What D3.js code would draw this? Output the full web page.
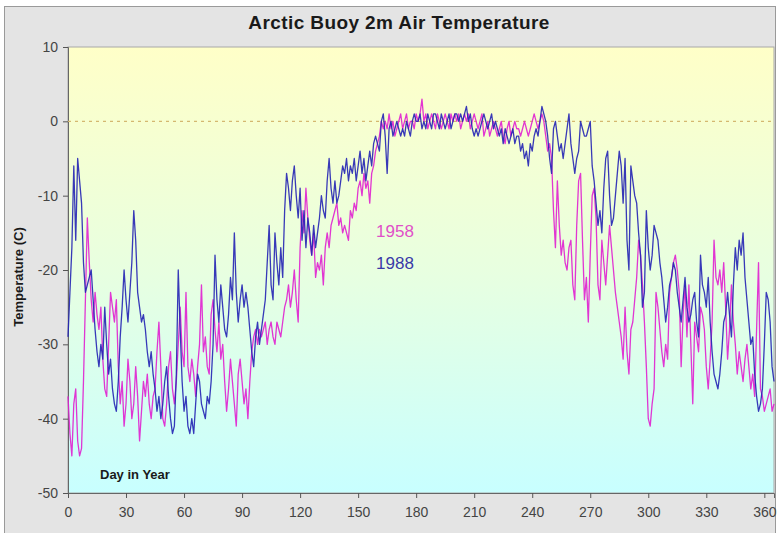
<!DOCTYPE html>
<html>
<head>
<meta charset="utf-8">
<script src="https://cdn.jsdelivr.net/npm/d3@7/dist/d3.min.js"></script>
<style>
  body { margin: 0; background: #ffffff; }
  svg { display: block; font-family: "Liberation Sans", Arial, sans-serif; }
</style>
</head>
<body>
<svg></svg>
<script>
// daily 2m air temperature (C), day 0 .. 365
let temps1958 = [
  -37, -42, -45, -38, -36, -43, -45, -44, -35, -24,
  -13, -19, -24, -27, -23, -26, -28, -25, -32, -36,
  -37, -30, -23, -25, -27, -24, -33, -38, -35, -41,
  -38, -32, -35, -40, -38, -33, -37, -43, -39, -35,
  -37, -34, -38, -40, -37, -36, -31, -27, -33, -40,
  -41, -38, -33, -31, -36, -38, -35, -30, -25, -31,
  -33, -23, -33, -35, -32, -34, -37, -33, -30, -22,
  -31, -29, -33, -34, -26, -24, -28, -31, -27, -32,
  -30, -35, -39, -36, -32, -35, -38, -41, -34, -32,
  -35, -38, -36, -40, -35, -31, -29, -28, -30, -28,
  -29, -28, -27, -30, -28, -27, -29, -30, -27, -28, -29,
  -27, -25, -24, -22, -25, -23, -20, -24, -27, -17,
  -12, -15, -9, -13, -16, -18, -15, -21, -19, -20,
  -18, -22, -17, -15, -17, -14, -13, -12, -11, -14,
  -13, -15, -14, -15, -16, -12, -13, -11, -12, -9,
  -8, -10, -7, -9, -8, -11, -7, -6, -4, -3,
  -2, 0, -1, 0, -1, 1, -1, 0, -2, -1,
  0, 1, -1, 0, 1, -1, 0, 0, -1, 1,
  0, 1, 3, 0, 1, -1, 0, 1, 0, -1,
  1, 0, -1, 0, 1, 0, -1, 1, 0, 1,
  0, 1, -1, 0, 1, 0, 1, -1, 0, 1,
  0, -1, 0, 1, -2, -1, 0, -2, -1, 0,
  -1, -2, -1, 0, -2, -3, -1, 0, -2, -1,
  0, -1, -1, -2, -1, 0, -1, -2, -1, 0, 1,
  0, -1, 0, 1, 0, -2, -4, -3, -5, -12,
  -17, -8, -14, -18, -16, -19, -20, -17, -16, -22,
  -24, -14, -8, -7, -16, -24, -21, -27, -18, -10,
  -9, -13, -22, -24, -16, -19, -22, -18, -14, -17,
  -20, -23, -25, -27, -29, -32, -25, -31, -34, -28,
  -27, -24, -21, -16, -18, -22, -27, -33, -40, -41,
  -38, -36, -23, -25, -28, -31, -33, -30, -32, -23,
  -21, -19, -18, -20, -23, -33, -26, -22, -29, -22,
  -30, -38, -27, -29, -31, -25, -26, -28, -33, -36,
  -32, -27, -16, -21, -22, -20, -23, -19, -25, -32,
  -28, -22, -27, -30, -34, -31, -33, -35, -32, -30,
  -33, -36, -34, -37, -28, -19, -36, -37, -39, -38,
  -37, -36, -39, -38
];

let temps1988 = [
  -29, -23, -17, -6, -16, -5, -8, -11, -19, -23,
  -22, -21, -20, -24, -28, -31, -33, -30, -32, -25,
  -30, -34, -32, -36, -38, -39, -35, -29, -25, -20,
  -24, -27, -23, -19, -12, -16, -23, -25, -27, -26,
  -28, -31, -33, -31, -34, -36, -39, -37, -40, -38,
  -35, -33, -37, -40, -42, -41, -34, -20, -28, -35,
  -39, -37, -41, -42, -40, -42, -38, -34, -35, -38,
  -39, -40, -37, -38, -35, -30, -18, -24, -27, -22,
  -25, -28, -29, -26, -21, -24, -15, -23, -27, -24,
  -22, -25, -23, -25, -28, -31, -33, -29, -27, -30,
  -28, -26, -24, -19, -14, -22, -24, -15, -19, -22, -17,
  -21, -12, -7, -9, -12, -8, -6, -10, -13, -9,
  -16, -12, -17, -13, -15, -18, -14, -17, -15, -13,
  -10, -12, -13, -8, -5, -9, -11, -8, -11, -10,
  -8, -6, -7, -5, -8, -6, -7, -5, -8, -6,
  -4, -7, -5, -8, -6, -4, -6, -3, -2, -3,
  -4, 0, 1, -2, -7, -1, 0, -2, -1, 0,
  -1, -2, -1, -2, 0, -1, -2, 0, 1, 0,
  0, 1, -1, 0, -1, 1, 0, -1, 1, 1,
  0, -1, 1, 0, -1, 0, 1, -1, 0, 1,
  1, 0, 1, 0, 1, 2, 0, 1, -1, -2,
  -1, -2, -1, 0, 1, 0, -1, 0, 1, -1,
  0, -1, -2, -1, -3, -1, -2, -3, -2, -1,
  -3, -2, -2, -4, -3, -5, -4, -6, -3, -4, -2,
  -1, -2, 0, 2, 1, 0, -2, -5, -7, -1,
  0, -2, -4, -3, -5, -3, -1, 1, -3, -5,
  -7, -5, -4, 0, -1, -2, -2, -1, 0, -6,
  -8, -11, -14, -12, -15, -9, -5, -4, -10, -14,
  -13, -10, -7, -4, -6, -11, -5, -16, -20, -6,
  -8, -10, -11, -15, -18, -25, -23, -12, -17, -20,
  -18, -14, -15, -16, -19, -21, -24, -27, -25, -22,
  -21, -19, -20, -23, -25, -27, -24, -21, -25, -27,
  -26, -24, -23, -27, -29, -18, -22, -23, -25, -21,
  -27, -31, -34, -35, -36, -34, -31, -27, -26, -23,
  -26, -29, -22, -17, -20, -16, -18, -15, -21, -24,
  -27, -30, -29, -34, -37, -39, -38, -36, -30, -23,
  -24, -27, -33, -35
];

let xTicks = [0, 30, 60, 90, 120, 150, 180, 210, 240, 270, 300, 330, 360];
let yTicks = [-50, -40, -30, -20, -10, 0, 10];

let width = 778;
let height = 533;
let plotLeft = 68;
let plotRight = 774;
let plotTop = 47;
let plotBottom = 493;

let svg = d3.select("svg").attr("width", width).attr("height", height);

let xScale = d3.scaleLinear().domain([0, 365]).range([plotLeft, plotRight]);
let yScale = d3.scaleLinear().domain([-50, 10]).range([plotBottom, plotTop]);

let drawFrame = () => {
  svg.append("rect")
    .attr("x", 4.5).attr("y", 6.5)
    .attr("width", 771).attr("height", 540)
    .attr("fill", "#e4e4e4")
    .attr("stroke", "#9a9a9a");

  let grad = svg.append("defs").append("linearGradient")
    .attr("id", "bg")
    .attr("x1", 0).attr("y1", 0).attr("x2", 0).attr("y2", 1);
  grad.append("stop").attr("offset", "0%").attr("stop-color", "#ffffc8");
  grad.append("stop").attr("offset", "50%").attr("stop-color", "#e8ffe0");
  grad.append("stop").attr("offset", "100%").attr("stop-color", "#c8ffff");

  svg.append("rect")
    .attr("x", plotLeft).attr("y", plotTop)
    .attr("width", plotRight - plotLeft).attr("height", plotBottom - plotTop)
    .attr("fill", "url(#bg)")
    .attr("stroke", "#a8a8a8");

  svg.append("text")
    .attr("x", 399).attr("y", 29)
    .attr("text-anchor", "middle")
    .attr("font-size", 19).attr("font-weight", "bold")
    .attr("letter-spacing", 0.4)
    .attr("fill", "#1a1a1a")
    .text("Arctic Buoy 2m Air Temperature");
};

let drawAxes = () => {
  let xAxis = d3.axisBottom(xScale).tickValues(xTicks).tickSize(5).tickPadding(9)
    .tickFormat((d) => String(d));
  let yAxis = d3.axisLeft(yScale).tickValues(yTicks).tickSize(5).tickPadding(5)
    .tickFormat((d) => String(d));

  let gx = svg.append("g")
    .attr("transform", "translate(0, " + plotBottom + ")")
    .call(xAxis);
  let gy = svg.append("g")
    .attr("transform", "translate(" + plotLeft + ", 0)")
    .call(yAxis);

  [gx, gy].forEach((g) => {
    g.select(".domain").attr("stroke", "#666");
    g.selectAll(".tick line").attr("stroke", "#555");
    g.selectAll(".tick text")
      .attr("font-size", 14)
      .attr("fill", "#444")
      .attr("font-family", "Liberation Sans, Arial, sans-serif");
  });

  svg.append("line")
    .attr("x1", plotLeft).attr("x2", plotRight)
    .attr("y1", yScale(0)).attr("y2", yScale(0))
    .attr("stroke", "#d4b870")
    .attr("stroke-width", 1.2)
    .attr("stroke-dasharray", "3,4");

  svg.append("text")
    .attr("transform", "translate(23, 277) rotate(-90)")
    .attr("text-anchor", "middle")
    .attr("font-size", 13).attr("font-weight", "bold")
    .attr("fill", "#1a1a1a")
    .text("Temperature (C)");

  svg.append("text")
    .attr("x", 100).attr("y", 479)
    .attr("font-size", 13).attr("font-weight", "bold")
    .attr("fill", "#1a1a1a")
    .text("Day in Year");
};

let drawSeries = (values, color) => {
  let line = d3.line()
    .x((d, i) => xScale(i))
    .y((d) => yScale(d));
  svg.append("path")
    .datum(values)
    .attr("d", line)
    .attr("fill", "none")
    .attr("stroke", color)
    .attr("stroke-width", 1.3)
    .attr("stroke-linejoin", "round")
    .attr("opacity", 0.9);
};

let drawLabels = () => {
  svg.append("text")
    .attr("x", 395).attr("y", 237)
    .attr("text-anchor", "middle")
    .attr("font-size", 17)
    .attr("fill", "#e050c8")
    .text("1958");
  svg.append("text")
    .attr("x", 395).attr("y", 269)
    .attr("text-anchor", "middle")
    .attr("font-size", 17)
    .attr("fill", "#3a3aa8")
    .text("1988");
};

drawFrame();
drawAxes();
drawSeries(temps1958, "#e020d0");
drawSeries(temps1988, "#2424b4");
drawLabels();
</script>
</body>
</html>
